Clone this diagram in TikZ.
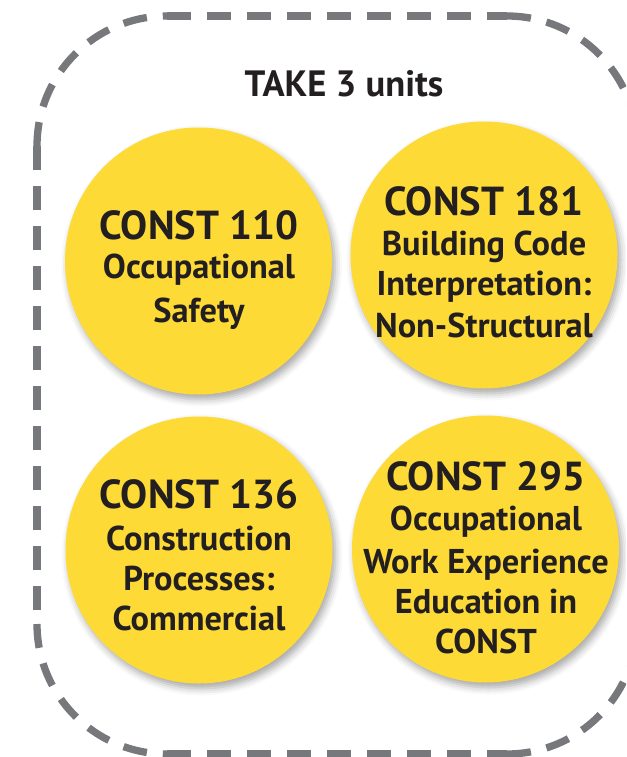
\documentclass[tikz,border=0pt]{standalone}
\usepackage{fontspec}
\setmainfont{PT Sans}
\usetikzlibrary{shadows.blur}
\definecolor{cyel}{HTML}{FDDA35}
\definecolor{cgray}{HTML}{77787B}
\definecolor{ctext}{HTML}{231F20}
\begin{document}
\begin{tikzpicture}[x=1pt,y=1pt,
  bord/.style={draw=cgray, line width=7.3pt, dash pattern=on 24pt off 16pt},
  circ/.style={circle, fill=cyel, minimum size=267pt, inner sep=0pt,
    blur shadow={shadow xshift=3pt, shadow yshift=-5pt, shadow blur radius=7pt, shadow opacity=35}},
  hd/.style={anchor=base, inner sep=0pt, text=ctext, font=\fontsize{40.5}{41}\selectfont\bfseries},
  sb/.style={anchor=base, inner sep=0pt, text=ctext, font=\fontsize{34.4}{36}\selectfont\bfseries},
  ttl/.style={anchor=base, inner sep=0pt, text=ctext, font=\fontsize{36.6}{40}\selectfont\bfseries}]
\useasboundingbox (0,0) rectangle (626,-757);
\clip (0,0) rectangle (626,-757);
% dashed border
\draw[bord] (167,-16) -- (507,-16);
\draw[bord] (167,-754) -- (507,-754);
\draw[bord] (37,-146) -- (37,-624);
\draw[bord] (637,-146) -- (637,-624);
\draw[bord] (37,-146) arc[start angle=180, end angle=90, radius=130];
\draw[bord] (507,-16) arc[start angle=90, end angle=0, radius=130];
\draw[bord] (37,-624) arc[start angle=180, end angle=270, radius=130];
\draw[bord] (507,-754) arc[start angle=270, end angle=360, radius=130];
% title
\node[ttl] (title) at (344,-97) {TAKE 3 units};
% circles
\node[circ] (c1) at (198.5,-261) {};
\node[circ] (c2) at (484,-255) {};
\node[circ] (c3) at (199,-550) {};
\node[circ] (c4) at (485.5,-549) {};
% circle 1
\node[hd] (c1a) at (199,-239) {CONST 110};
\node[sb] (c1b) at (199,-278) {Occupational};
\node[sb] (c1c) at (199,-322) {Safety};
% circle 2
\node[hd] (c2a) at (484,-215) {CONST 181};
\node[sb] (c2b) at (484,-255) {Building Code};
\node[sb] (c2c) at (484,-295) {Interpretation:};
\node[sb] (c2d) at (484,-337) {Non-Structural};
% circle 3
\node[hd] (c3a) at (199,-508) {CONST 136};
\node[sb] (c3b) at (199,-550) {Construction};
\node[sb] (c3c) at (199,-590) {Processes:};
\node[sb] (c3d) at (199,-630) {Commercial};
% circle 4
\node[hd] (c4a) at (486,-490) {CONST 295};
\node[sb] (c4b) at (486,-530) {Occupational};
\node[sb] (c4c) at (486,-573) {Work Experience};
\node[sb] (c4d) at (486,-613) {Education in};
\node[sb] (c4e) at (486,-653) {CONST};
\end{tikzpicture}
\end{document}
